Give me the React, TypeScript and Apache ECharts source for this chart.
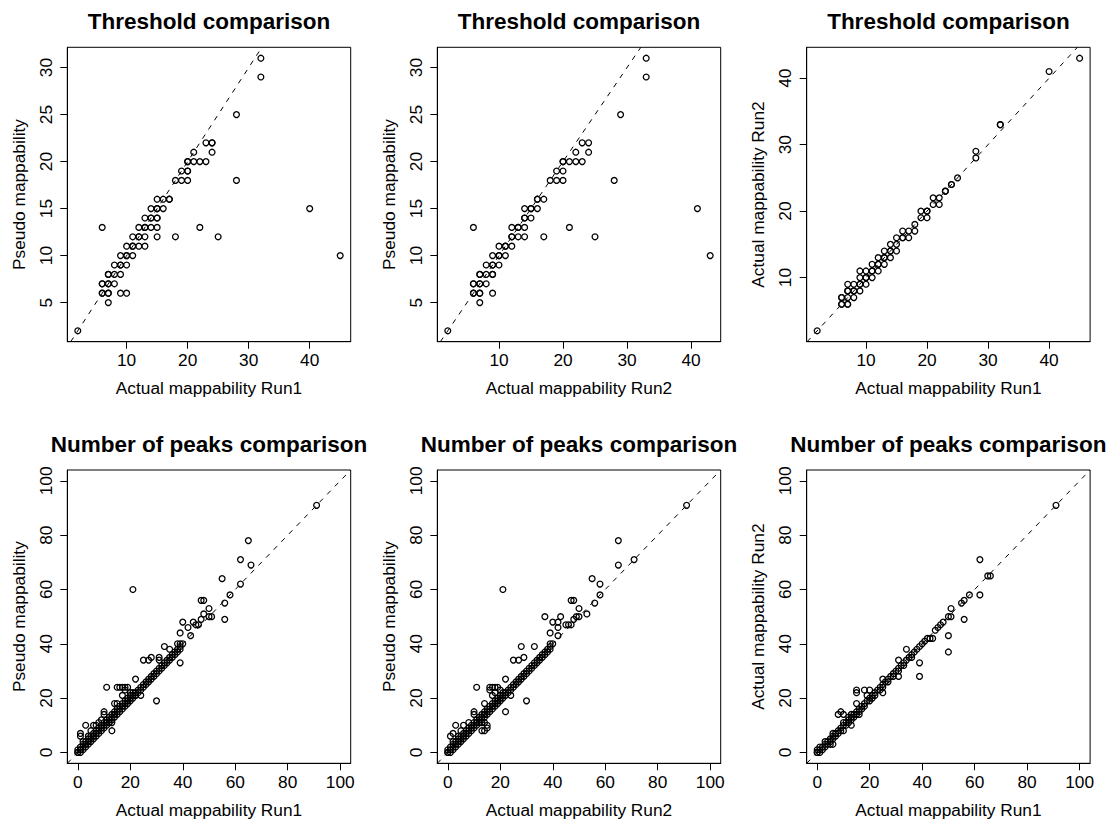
import React, { useEffect, useRef } from "react";
import * as echarts from "echarts";

type Pt = [number, number];

const FONT = '"Liberation Sans", Arial, Helvetica, sans-serif';

const panelTitles = [
  "Threshold comparison",
  "Threshold comparison",
  "Threshold comparison",
  "Number of peaks comparison",
  "Number of peaks comparison",
  "Number of peaks comparison",
];
const xAxisNames = [
  "Actual mappability Run1",
  "Actual mappability Run2",
  "Actual mappability Run1",
  "Actual mappability Run1",
  "Actual mappability Run2",
  "Actual mappability Run1",
];
const yAxisNames = [
  "Pseudo mappability",
  "Pseudo mappability",
  "Actual mappability Run2",
  "Pseudo mappability",
  "Pseudo mappability",
  "Actual mappability Run2",
];

const topXTicks = [10, 20, 30, 40];
const topYTicks = [5, 10, 15, 20, 25, 30];
const topRightYTicks = [10, 20, 30, 40];
const bottomTicks = [0, 20, 40, 60, 80, 100];
const bottomLimits: [number, number] = [0, 100];

// Threshold: Actual Run1 (x) vs Pseudo (y)
const thresholdRun1VsPseudo: Pt[] = [
  [2, 2], [7, 5],
  [6, 6], [6, 6], [7, 6], [7, 6], [9, 6], [10, 6],
  [6, 7], [6, 7], [7, 7], [7, 7], [8, 7],
  [7, 8], [7, 8], [8, 8], [9, 8],
  [8, 9], [9, 9], [9, 9], [10, 9],
  [9, 10], [10, 10], [10, 10], [11, 10], [45, 10],
  [10, 11], [11, 11], [11, 11], [12, 11], [13, 11],
  [11, 12], [12, 12], [12, 12], [13, 12], [15, 12], [18, 12], [25, 12],
  [6, 13], [12, 13], [13, 13], [13, 13], [14, 13], [15, 13], [22, 13],
  [13, 14], [14, 14], [14, 14], [15, 14], [15, 14],
  [14, 15], [15, 15], [15, 15], [16, 15], [40, 15],
  [15, 16], [16, 16], [17, 16], [17, 16],
  [18, 18], [19, 18], [20, 18], [28, 18],
  [19, 19], [20, 19], [20, 19],
  [20, 20], [20, 20], [21, 20], [22, 20], [23, 20],
  [21, 21], [24, 21],
  [23, 22], [24, 22], [24, 22],
  [28, 25], [32, 29], [32, 31],
];

// Threshold: Actual Run2 (x) vs Pseudo (y)
const thresholdRun2VsPseudo: Pt[] = [
  [2, 2], [7, 5],
  [6, 6], [6, 6], [7, 6], [7, 6], [9, 6],
  [6, 7], [6, 7], [7, 7], [7, 7], [8, 7],
  [7, 8], [7, 8], [8, 8], [9, 8], [9, 8],
  [8, 9], [9, 9], [9, 9], [10, 9],
  [9, 10], [10, 10], [10, 10], [11, 10], [43, 10],
  [10, 11], [11, 11], [11, 11], [12, 11],
  [12, 12], [12, 12], [13, 12], [14, 12], [17, 12], [25, 12],
  [6, 13], [12, 13], [13, 13], [13, 13], [14, 13], [21, 13],
  [14, 14], [14, 14], [15, 14],
  [14, 15], [15, 15], [15, 15], [16, 15], [41, 15],
  [16, 16], [16, 16], [17, 16],
  [18, 18], [19, 18], [20, 18], [28, 18],
  [19, 19], [20, 19],
  [20, 20], [20, 20], [21, 20], [22, 20], [23, 20],
  [22, 21], [24, 21],
  [23, 22], [24, 22],
  [29, 25], [33, 29], [33, 31],
];

// Threshold: Actual Run1 (x) vs Actual Run2 (y)
const thresholdRun1VsRun2: Pt[] = [
  [2, 2],
  [6, 6], [6, 6], [7, 6], [7, 6],
  [6, 7], [6, 7], [7, 7], [8, 7],
  [7, 8], [7, 8], [8, 8], [8, 8], [9, 8],
  [7, 9], [8, 9], [9, 9], [9, 9], [10, 9],
  [9, 10], [10, 10], [10, 10], [11, 10],
  [9, 11], [10, 11], [11, 11], [11, 11], [12, 11],
  [11, 12], [12, 12], [12, 12], [13, 12],
  [12, 13], [13, 13], [13, 13], [14, 13],
  [13, 14], [14, 14], [14, 14], [15, 14],
  [14, 15], [15, 15],
  [15, 16], [16, 16], [16, 16], [17, 16],
  [16, 17], [17, 17], [18, 17],
  [18, 18],
  [19, 19], [20, 19],
  [19, 20], [20, 20], [20, 20],
  [21, 21], [22, 21],
  [21, 22], [22, 22],
  [23, 23], [23, 23],
  [24, 24], [24, 24],
  [25, 25], [28, 28], [28, 29],
  [32, 33], [32, 33],
  [40, 41], [45, 43],
];

// Number of peaks: Actual Run1 (x) vs Pseudo (y)
const peaksRun1VsPseudo: Pt[] = [
  [0, 0], [0, 0], [0, 1], [1, 0], [1, 1], [1, 1], [1, 2], [2, 1], [2, 2], [2, 3],
  [3, 2], [3, 3], [3, 4], [4, 3], [4, 4], [4, 5], [5, 4], [5, 5], [5, 6], [6, 5],
  [6, 6], [6, 7], [7, 6], [7, 7], [7, 8], [8, 7], [8, 8], [8, 9], [9, 8], [9, 9],
  [9, 10], [10, 9], [10, 10], [10, 11], [11, 10], [11, 11], [11, 12], [12, 11], [12, 12], [12, 13],
  [13, 12], [13, 13], [13, 14], [14, 13], [14, 14], [14, 15], [15, 14], [15, 15], [15, 16], [16, 15],
  [16, 16], [16, 17], [17, 16], [17, 17], [17, 18], [18, 17], [18, 18], [18, 19], [19, 18], [19, 19],
  [19, 20], [20, 19], [20, 20], [20, 21], [21, 20], [21, 21], [21, 22], [22, 21], [22, 22], [23, 22],
  [23, 23], [24, 23], [24, 24], [25, 24], [25, 25], [26, 25], [26, 26], [27, 26], [27, 27], [28, 27],
  [28, 28], [29, 28], [29, 29], [30, 29], [30, 30], [31, 30], [31, 31], [32, 31], [32, 32], [33, 32],
  [33, 33], [34, 33], [34, 34], [35, 34], [35, 35], [36, 35], [36, 36], [37, 36], [37, 37], [38, 37],
  [38, 38], [39, 38], [39, 39], [40, 40],
  [1, 6], [1, 7], [2, 4], [3, 10], [4, 6], [5, 8], [6, 10], [7, 10], [8, 11], [9, 12],
  [10, 14], [10, 15], [13, 11], [13, 8], [14, 18], [15, 18], [17, 21], [18, 23], [20, 22], [22, 21],
  [11, 24], [15, 24], [16, 24], [17, 24], [18, 24], [19, 24], [24, 21], [30, 19], [22, 27], [21, 60],
  [25, 34], [27, 34], [28, 35], [31, 34], [31, 35], [33, 39], [35, 38], [39, 33], [38, 40], [39, 40],
  [39, 44], [40, 48], [42, 46], [43, 43], [44, 48], [45, 47], [46, 47], [47, 49], [47, 56], [48, 56],
  [48, 51], [50, 53], [50, 50], [51, 50], [56, 49], [56, 55], [58, 58], [55, 64], [62, 62], [62, 71],
  [66, 69], [65, 78], [91, 91],
];

// Number of peaks: Actual Run2 (x) vs Pseudo (y)
const peaksRun2VsPseudo: Pt[] = [
  [0, 0], [0, 0], [0, 1], [1, 0], [1, 1], [1, 2], [2, 1], [2, 2], [2, 3], [3, 2],
  [3, 3], [3, 4], [4, 3], [4, 4], [4, 5], [5, 4], [5, 5], [5, 6], [6, 5], [6, 6],
  [6, 7], [7, 6], [7, 7], [7, 8], [8, 7], [8, 8], [8, 9], [9, 8], [9, 9], [9, 10],
  [10, 9], [10, 10], [10, 11], [11, 10], [11, 11], [11, 12], [12, 11], [12, 12], [12, 13], [13, 12],
  [13, 13], [13, 14], [14, 13], [14, 14], [14, 15], [15, 14], [15, 15], [15, 16], [16, 15], [16, 16],
  [16, 17], [17, 16], [17, 17], [17, 18], [18, 17], [18, 18], [18, 19], [19, 18], [19, 19], [19, 20],
  [20, 19], [20, 20], [20, 21], [21, 20], [21, 21], [21, 22], [22, 21], [22, 22], [23, 22], [23, 23],
  [24, 23], [24, 24], [25, 24], [25, 25], [26, 25], [26, 26], [27, 26], [27, 27], [28, 27], [28, 28],
  [29, 28], [29, 29], [30, 29], [30, 30], [31, 30], [31, 31], [32, 31], [32, 32], [33, 32], [33, 33],
  [34, 33], [34, 34], [35, 34], [35, 35], [36, 35], [36, 36], [37, 36], [37, 37], [38, 37], [38, 38],
  [39, 38], [39, 39], [40, 40],
  [1, 6], [2, 7], [2, 4], [3, 10], [4, 6], [5, 8], [6, 10], [8, 11], [10, 14], [10, 15],
  [13, 11], [14, 11], [15, 10], [15, 9], [13, 8], [14, 8], [14, 18], [17, 21], [18, 22], [20, 23],
  [11, 24], [16, 24], [17, 24], [18, 24], [19, 24], [16, 23], [22, 15], [24, 21], [30, 19], [22, 27],
  [21, 60], [25, 34], [27, 34], [29, 35], [28, 39], [33, 39], [37, 50], [39, 40], [39, 44], [40, 48],
  [42, 48], [42, 46], [42, 43], [43, 50], [45, 47], [46, 47], [47, 47], [48, 49], [49, 50], [50, 50],
  [53, 51], [50, 53], [47, 56], [48, 56], [56, 55], [58, 58], [58, 62], [55, 64], [65, 69], [71, 71],
  [65, 78], [91, 91],
];

// Number of peaks: Actual Run1 (x) vs Actual Run2 (y)
const peaksRun1VsRun2: Pt[] = [
  [0, 0], [0, 0], [0, 1], [1, 0], [1, 1], [1, 2], [2, 1], [2, 2], [3, 2], [3, 3],
  [3, 4], [4, 3], [4, 4], [5, 4], [5, 5], [6, 5], [6, 6], [6, 7], [7, 7], [8, 7],
  [8, 8], [9, 8], [9, 9], [10, 10], [10, 11], [11, 10], [11, 11], [12, 12], [12, 13], [13, 12],
  [13, 13], [14, 13], [14, 14], [15, 14], [15, 15], [16, 15], [16, 16], [17, 16], [17, 17], [18, 17],
  [18, 18], [19, 19], [20, 19], [20, 20], [21, 20], [21, 21], [22, 21], [22, 22], [23, 23], [24, 23],
  [24, 24], [25, 24], [25, 25], [26, 26], [27, 26], [27, 27], [28, 28], [29, 28], [29, 29], [30, 30],
  [31, 30], [31, 31], [32, 32], [33, 32], [33, 33], [34, 34], [35, 35], [36, 35], [36, 36], [37, 37],
  [38, 38], [39, 39], [40, 40], [41, 41],
  [5, 3], [6, 3], [7, 6], [10, 8], [12, 11], [13, 10], [8, 14], [9, 15], [10, 14], [13, 14],
  [16, 14], [15, 18], [15, 22], [15, 23], [18, 23], [20, 23], [19, 21], [25, 22], [25, 27], [31, 28],
  [31, 34], [34, 38], [39, 28], [39, 33], [42, 42], [43, 42], [44, 42], [45, 45], [46, 46], [47, 47],
  [48, 48], [50, 43], [50, 37], [50, 50], [51, 50], [51, 53], [55, 55], [56, 56], [56, 49], [58, 58],
  [62, 58], [65, 65], [66, 65], [62, 71], [91, 91],
];

// layout of the six plot boxes (pixels)
const COL_LEFT = [67.3, 437.3, 806.7];
const BOX_W = 283.4;
const ROW_TOP = [47.3, 470];
const BOX_H = [294.4, 293.3];

function extendRange(lo: number, hi: number): [number, number] {
  const d = (hi - lo) * 0.04;
  return [lo - d, hi + d];
}

function dataRange(pts: Pt[], k: 0 | 1): [number, number] {
  let lo = Infinity;
  let hi = -Infinity;
  for (const p of pts) {
    if (p[k] < lo) lo = p[k];
    if (p[k] > hi) hi = p[k];
  }
  return [lo, hi];
}

const panels = [
  { data: thresholdRun1VsPseudo, xTicks: topXTicks, yTicks: topYTicks, lim: null as null | [number, number] },
  { data: thresholdRun2VsPseudo, xTicks: topXTicks, yTicks: topYTicks, lim: null as null | [number, number] },
  { data: thresholdRun1VsRun2, xTicks: topXTicks, yTicks: topRightYTicks, lim: null as null | [number, number] },
  { data: peaksRun1VsPseudo, xTicks: bottomTicks, yTicks: bottomTicks, lim: bottomLimits },
  { data: peaksRun2VsPseudo, xTicks: bottomTicks, yTicks: bottomTicks, lim: bottomLimits },
  { data: peaksRun1VsRun2, xTicks: bottomTicks, yTicks: bottomTicks, lim: bottomLimits },
];

const LABEL_SIZE = 17.3;
const TITLE_SIZE = 22.5;

function buildOption() {
  const grid: any[] = [];
  const xAxis: any[] = [];
  const yAxis: any[] = [];
  const series: any[] = [];
  const graphic: any[] = [];

  panels.forEach((p, i) => {
    const col = i % 3;
    const row = Math.floor(i / 3);
    const left = COL_LEFT[col];
    const top = ROW_TOP[row];
    const h = BOX_H[row];
    const xr = p.lim ? extendRange(p.lim[0], p.lim[1]) : extendRange(...dataRange(p.data, 0));
    const yr = p.lim ? extendRange(p.lim[0], p.lim[1]) : extendRange(...dataRange(p.data, 1));

    grid.push({
      left,
      top,
      width: BOX_W,
      height: h,
      show: true,
      borderColor: "#000",
      borderWidth: 1,
      backgroundColor: "transparent",
      containLabel: false,
      outerBoundsMode: "none",
    });

    const common = {
      gridIndex: i,
      type: "value",
      scale: true,
      nameLocation: "middle",
      nameTextStyle: { fontFamily: FONT, fontSize: LABEL_SIZE, color: "#000" },
      axisLine: { show: true, onZero: false, lineStyle: { color: "#000", width: 1 } },
      splitLine: { show: false },
      splitArea: { show: false },
    };

    xAxis.push({
      ...common,
      min: xr[0],
      max: xr[1],
      name: xAxisNames[i],
      nameGap: 38,
      axisTick: { show: true, inside: false, length: 7, customValues: p.xTicks, lineStyle: { color: "#000", width: 1 } },
      axisLabel: {
        show: true,
        margin: 10,
        customValues: p.xTicks,
        fontFamily: FONT,
        fontSize: LABEL_SIZE,
        color: "#000",
        hideOverlap: false,
      },
    });

    yAxis.push({
      ...common,
      min: yr[0],
      max: yr[1],
      name: yAxisNames[i],
      nameGap: 40,
      nameRotate: 90,
      axisTick: { show: true, inside: false, length: 7, customValues: p.yTicks, lineStyle: { color: "#000", width: 1 } },
      axisLabel: {
        show: true,
        rotate: 90,
        margin: 13,
        customValues: p.yTicks,
        fontFamily: FONT,
        fontSize: LABEL_SIZE,
        color: "#000",
        hideOverlap: false,
      },
    });

    const lo = Math.max(xr[0], yr[0]);
    const hi = Math.min(xr[1], yr[1]);
    series.push({
      type: "line",
      xAxisIndex: i,
      yAxisIndex: i,
      data: [
        [lo, lo],
        [hi, hi],
      ],
      symbol: "none",
      silent: true,
      lineStyle: { color: "#000", width: 1, type: [5, 6] },
      z: 1,
    });

    series.push({
      type: "scatter",
      xAxisIndex: i,
      yAxisIndex: i,
      data: p.data,
      symbol: "circle",
      symbolSize: 5.8,
      silent: true,
      itemStyle: { color: "rgba(0,0,0,0)", borderColor: "#000", borderWidth: 1.3, opacity: 1 },
      z: 2,
    });

    graphic.push({
      type: "text",
      x: left + BOX_W / 2,
      y: top - 25.4,
      silent: true,
      style: {
        text: panelTitles[i],
        fill: "#000",
        font: `bold ${TITLE_SIZE}px ${FONT}`,
        fontFamily: FONT,
        fontSize: TITLE_SIZE,
        fontWeight: "bold",
        align: "center",
        textAlign: "center",
        verticalAlign: "middle",
        textVerticalAlign: "middle",
      },
    });
  });

  return {
    animation: false,
    backgroundColor: "#fff",
    textStyle: { fontFamily: FONT },
    grid,
    xAxis,
    yAxis,
    series,
    graphic,
  };
}

export default function App() {
  const ref = useRef<HTMLDivElement>(null);

  useEffect(() => {
    if (!ref.current) return;
    const chart = echarts.init(ref.current, undefined, { renderer: "svg" });
    chart.setOption(buildOption() as any);
    return () => {
      chart.dispose();
    };
  }, []);

  return (
    <div
      ref={ref}
      style={{ position: "fixed", left: 0, top: 0, width: 1118, height: 825, background: "#fff" }}
    />
  );
}
